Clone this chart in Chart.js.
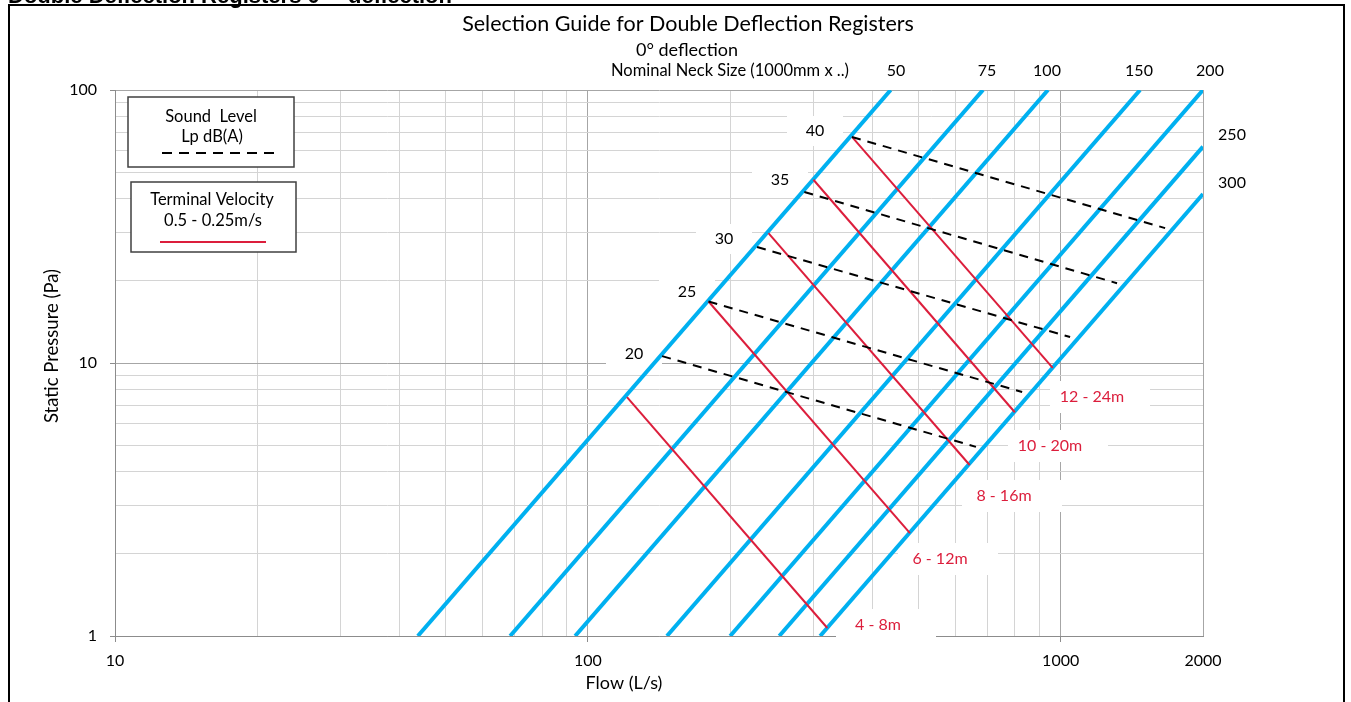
<!DOCTYPE html>
<html>
<head>
<meta charset="utf-8">
<script src="https://cdn.jsdelivr.net/npm/chart.js@4.4.1/dist/chart.umd.min.js"></script>
<style>
  html, body { margin: 0; padding: 0; background: #fff; }
  canvas { display: block; }
</style>
</head>
<body>
<canvas id="chart" width="1351" height="702"></canvas>
<script>
// axis ticks
const xTicks = [10, 20, 30, 40, 50, 60, 70, 80, 90, 100, 200, 300, 400, 500, 600, 700, 800, 900, 1000, 2000];
const xTickLabels = [10, 100, 1000, 2000];
const yTicks = [1, 2, 3, 4, 5, 6, 7, 8, 9, 10, 20, 30, 40, 50, 60, 70, 80, 90, 100];
const yTickLabels = [1, 10, 100];

// nominal neck size lines (flow L/s, pressure Pa) - start / end
const neckSizes = ['50', '75', '100', '150', '200', '250', '300'];
const neckFlowStart = [43.7, 68.5, 94, 147, 200, 254, 310];
const neckPressStart = [1, 1, 1, 1, 1, 1, 1];
const neckFlowEnd = [437, 685, 940, 1472, 2000, 2000, 2000];
const neckPressEnd = [100, 100, 100, 100, 100, 62, 41.6];

// terminal velocity (throw) lines
const throwLabels = ['4 - 8m', '6 - 12m', '8 - 16m', '10 - 20m', '12 - 24m'];
const throwFlowStart = [121, 180, 241, 300, 362];
const throwPressStart = [7.5, 16.8, 29.9, 46.9, 67.3];
const throwFlowEnd = [321, 480, 642, 800, 962];
const throwPressEnd = [1.07, 2.38, 4.23, 6.6, 9.6];

// sound level lines, Lp dB(A)
const soundLevels = ['20', '25', '30', '35', '40'];
const soundFlowStart = [143.6, 180, 228, 287, 362];
const soundPressStart = [10.6, 16.8, 26.6, 42.3, 67.3];
const soundFlowEnd = [662, 829, 1047, 1316, 1663];
const soundPressEnd = [4.93, 7.83, 12.45, 19.6, 31.2];

const BLUE = '#00b0f0';
const RED = '#dc1e3c';
const FONT = 'Lato';

// text label spots (pixels)
const soundLabelPos = [[634, 354], [687, 292], [724, 239], [780, 180], [815, 131]];
const throwLabelPos = [[878, 625], [940, 559], [1004, 496], [1050, 446], [1092, 397]];
const neckLabelPos = [[896, 71], [987, 71], [1047, 71], [1139, 71], [1210, 71], [1232, 135], [1232, 183]];

const seg = (x0, y0, x1, y1) => [{x: x0, y: y0}, {x: x1, y: y1}];

const datasets = [];
neckSizes.forEach((n, i) => datasets.push({
  label: 'Neck ' + n,
  data: seg(neckFlowStart[i], neckPressStart[i], neckFlowEnd[i], neckPressEnd[i]),
  borderColor: BLUE,
  borderWidth: 4,
  order: 3,
}));
throwLabels.forEach((t, i) => datasets.push({
  label: t,
  data: seg(throwFlowStart[i], throwPressStart[i], throwFlowEnd[i], throwPressEnd[i]),
  borderColor: RED,
  borderWidth: 2,
  order: 2,
}));
soundLevels.forEach((s, i) => datasets.push({
  label: s + ' dB(A)',
  data: seg(soundFlowStart[i], soundPressStart[i], soundFlowEnd[i], soundPressEnd[i]),
  borderColor: '#000',
  borderWidth: 2,
  borderDash: [9, 7],
  order: 1,
}));

function text(ctx, str, x, y, font, color, align) {
  ctx.font = font;
  ctx.fillStyle = color || '#000';
  ctx.textAlign = align || 'center';
  ctx.textBaseline = 'middle';
  ctx.fillText(str, x, y);
}

const decor = {
  id: 'decor',
  beforeDraw(chart) {
    const ctx = chart.ctx;
    ctx.save();
    ctx.fillStyle = '#fff';
    ctx.fillRect(0, 0, chart.width, chart.height);
    // page heading, cut off at the top
    ctx.font = 'bold 22px "Liberation Sans"';
    ctx.fillStyle = '#000';
    ctx.textAlign = 'left';
    ctx.textBaseline = 'alphabetic';
    ctx.fillText('Double Deflection Registers 0\u00b0 - deflection', 8, 3);
    // frame
    ctx.strokeStyle = '#000';
    ctx.lineWidth = 2;
    ctx.beginPath();
    ctx.moveTo(9, 702);
    ctx.lineTo(9, 5);
    ctx.lineTo(1344, 5);
    ctx.lineTo(1344, 702);
    ctx.stroke();
    // titles
    text(ctx, 'Selection Guide for Double Deflection Registers', 688, 24, '21.5px ' + FONT);
    text(ctx, '0\u00b0 deflection', 687, 50, '18px ' + FONT);
    text(ctx, 'Nominal Neck Size (1000mm x ..)', 730, 71, '16.5px ' + FONT);
    text(ctx, 'Flow (L/s)', 624, 683, '18px ' + FONT);
    ctx.translate(52, 346);
    ctx.rotate(-Math.PI / 2);
    text(ctx, 'Static Pressure (Pa)', 0, 0, '18.5px ' + FONT);
    ctx.restore();
  },
  beforeDatasetsDraw(chart) {
    const ctx = chart.ctx;
    ctx.save();
    ctx.fillStyle = '#fff';
    soundLabelPos.forEach(([x, y]) => ctx.fillRect(x - 28, y - 15, 56, 30));
    throwLabelPos.forEach(([x, y]) => ctx.fillRect(x - 42, y - 16, 100, 32));
    // legend boxes
    ctx.strokeStyle = '#404040';
    ctx.lineWidth = 1.5;
    ctx.fillRect(128, 97, 166, 70);
    ctx.strokeRect(128, 97, 166, 70);
    ctx.fillRect(131, 182, 165, 70);
    ctx.strokeRect(131, 182, 165, 70);
    ctx.restore();
  },
  afterDatasetsDraw(chart) {
    const ctx = chart.ctx;
    ctx.save();
    soundLevels.forEach((s, i) => text(ctx, s, soundLabelPos[i][0], soundLabelPos[i][1], '16px ' + FONT));
    throwLabels.forEach((t, i) => text(ctx, t, throwLabelPos[i][0], throwLabelPos[i][1], '16px ' + FONT, RED));
    neckSizes.forEach((n, i) => text(ctx, n, neckLabelPos[i][0], neckLabelPos[i][1], '16px ' + FONT));
    // legend contents
    text(ctx, 'Sound  Level', 211, 117, '16.5px ' + FONT);
    text(ctx, 'Lp dB(A)', 212, 137, '16.5px ' + FONT);
    ctx.strokeStyle = '#000';
    ctx.lineWidth = 2;
    ctx.setLineDash([10, 7]);
    ctx.beginPath();
    ctx.moveTo(162, 153);
    ctx.lineTo(274, 153);
    ctx.stroke();
    ctx.setLineDash([]);
    text(ctx, 'Terminal Velocity', 212, 200, '16.5px ' + FONT);
    text(ctx, '0.5 - 0.25m/s', 213, 221, '16.5px ' + FONT);
    ctx.strokeStyle = RED;
    ctx.beginPath();
    ctx.moveTo(160, 242);
    ctx.lineTo(266, 242);
    ctx.stroke();
    ctx.restore();
  }
};

const gridColor = (majors) => (c) => majors.includes(c.tick && c.tick.value) ? '#a6a6a6' : '#d4d4d4';
const tickColor = (majors) => (c) => majors.includes(c.tick && c.tick.value) && c.tick.value !== 2000 ? '#8c8c8c' : 'rgba(0,0,0,0)';

new Chart(document.getElementById('chart'), {
  type: 'scatter',
  data: {datasets: datasets},
  options: {
    responsive: false,
    animation: false,
    events: [],
    showLine: true,
    elements: {point: {radius: 0}, line: {tension: 0}},
    layout: {padding: {top: 90, right: 148, left: 0, bottom: 0}},
    plugins: {legend: {display: false}, tooltip: {enabled: false}},
    scales: {
      x: {
        type: 'logarithmic',
        min: 10,
        max: 2000,
        afterBuildTicks: (s) => { s.ticks = xTicks.map(v => ({value: v})); },
        afterFit: (s) => { s.height = 66; },
        border: {color: '#8c8c8c'},
        grid: {color: gridColor([10, 100, 1000, 2000]), tickColor: tickColor([10, 100, 1000]), tickLength: 6},
        ticks: {
          autoSkip: false, maxRotation: 0, padding: 9, color: '#000',
          font: {family: FONT, size: 16},
          callback: (v) => xTickLabels.includes(v) ? String(v) : '',
        },
      },
      y: {
        type: 'logarithmic',
        min: 1,
        max: 100,
        afterBuildTicks: (s) => { s.ticks = yTicks.map(v => ({value: v})); },
        afterFit: (s) => { s.width = 115; },
        border: {color: '#8c8c8c'},
        grid: {color: gridColor(yTickLabels), tickColor: tickColor(yTickLabels), tickLength: 5},
        ticks: {
          autoSkip: false, padding: 13, color: '#000',
          font: {family: FONT, size: 16},
          callback: (v) => yTickLabels.includes(v) ? String(v) : '',
        },
      },
    },
  },
  plugins: [decor],
});
</script>
</body>
</html>
